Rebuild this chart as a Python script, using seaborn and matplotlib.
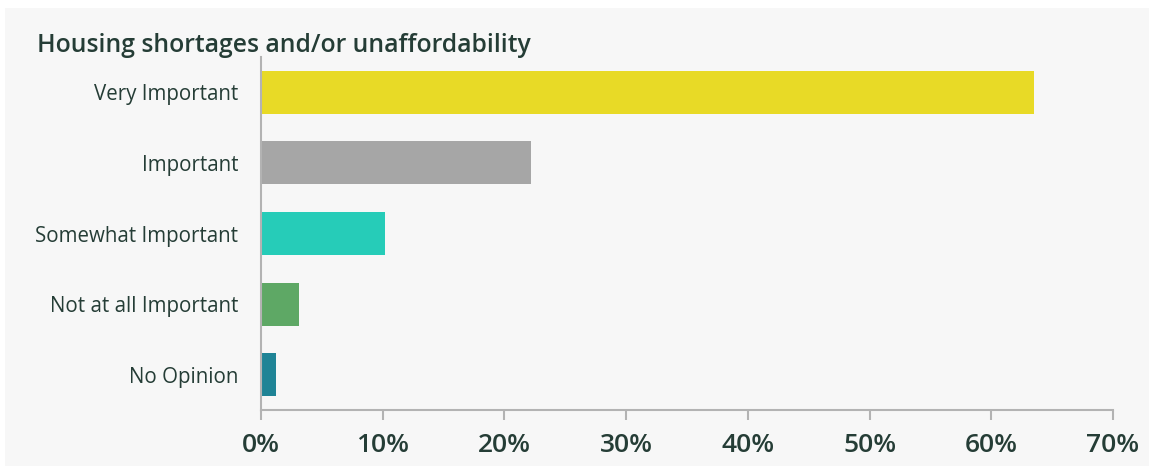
import matplotlib
matplotlib.use("Agg")
import matplotlib.pyplot as plt
import seaborn as sns
import pandas as pd
from matplotlib.patches import Rectangle
from matplotlib.ticker import FuncFormatter

# Datos
categorias = ["Very Important", "Important", "Somewhat Important", "Not at all Important", "No Opinion"]
porcentajes = [63.5, 22.2, 10.2, 3.1, 1.2]
colores = ["#E8DA26", "#A6A6A6", "#26CCB8", "#5EA865", "#1F8496"]
titulo = "Housing shortages and/or unaffordability"

df = pd.DataFrame({"categoria": categorias, "pct": porcentajes})

sns.set_theme(style="white")
plt.rcParams["font.family"] = ["Open Sans", "DejaVu Sans"]

texto = "#253D36"
fondo = "#F7F7F7"

fig = plt.figure(figsize=(11.52, 4.66), dpi=100, facecolor="white")
fig.patches.append(Rectangle((5 / 1152, 0), 1144 / 1152, 458 / 466,
                             transform=fig.transFigure, facecolor=fondo,
                             edgecolor="none", zorder=-10))
ax = fig.add_axes([261 / 1152, 1 - 410 / 466, 852 / 1152, 353 / 466])
ax.set_zorder(5)
ax.patch.set_alpha(0)

sns.barplot(data=df, y="categoria", x="pct", hue="categoria", palette=colores,
            legend=False, width=0.61, saturation=1, linewidth=0, ax=ax)

ax.set_xlim(0, 70)
ax.set_ylim(4.5, -0.5)
ax.set_xticks(range(0, 71, 10))
ax.xaxis.set_major_formatter(FuncFormatter(lambda v, p: f"{v:.0f}%"))
ax.set_xlabel("")
ax.set_ylabel("")

for s in ["top", "right"]:
    ax.spines[s].set_visible(False)
for s in ["left", "bottom"]:
    ax.spines[s].set_color("#B3B3B3")
    ax.spines[s].set_linewidth(1.5)

ax.tick_params(axis="x", bottom=True, direction="out", length=7.5, width=1.5,
               color="#B3B3B3", pad=9, labelsize=19, labelcolor=texto)
for lbl in ax.get_xticklabels():
    lbl.set_fontweight("semibold")
ax.tick_params(axis="y", left=False, length=0, pad=16.5, labelsize=14.8, labelcolor=texto)

fig.text(37 / 1152, 1 - 45 / 466, titulo, fontsize=17.8, fontweight="semibold",
         color=texto, va="center", ha="left", zorder=6)

fig.savefig("out.png", dpi=100, facecolor="white")
